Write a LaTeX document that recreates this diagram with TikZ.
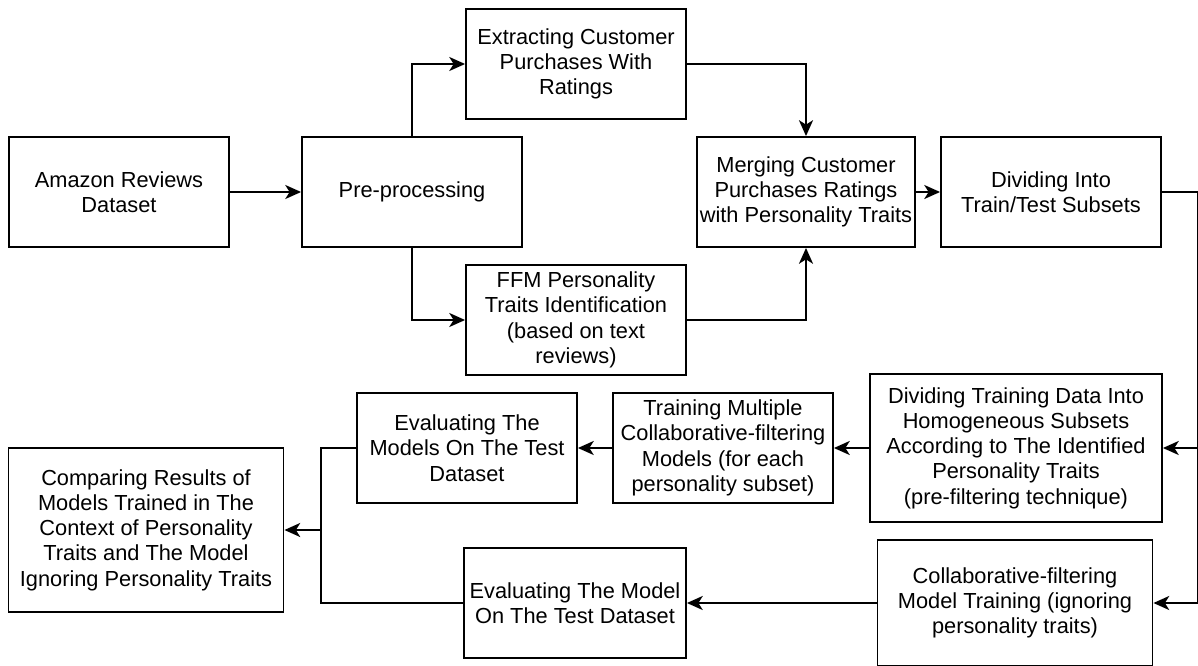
\documentclass[tikz,border=0pt]{standalone}
\usepackage{fontspec}
\setmainfont{Liberation Sans}
\usetikzlibrary{calc,arrows.meta}

\begin{document}
\begin{tikzpicture}[x=0.02cm,y=-0.02cm,
box/.style={rectangle,draw=black,line width=1.1pt,align=center,inner sep=1pt,font=\fontsize{12.4}{14.4}\selectfont},
sbox/.style={box,minimum width=4.4cm,minimum height=2.2cm},
flow/.style={line width=1.1pt,-{Stealth[length=9pt,width=8pt,inset=2.5pt]}},
link/.style={line width=1.1pt}]
	\useasboundingbox (0,0) rectangle (1198,666);
	%data preparation
	\node[sbox] at (119,192) (amz) {Amazon Reviews\\Dataset};
	\node[sbox] at (412,192) (pre) {Pre-processing};
	\node[sbox] at (576,64) (ext) {Extracting Customer\\Purchases With\\Ratings};
	\node[sbox] at (576,320) (ffm) {FFM Personality\\Traits Identification\\(based on text\\reviews)};
	\node[sbox,minimum width=4.36cm] at (806,192) (mrg) {Merging Customer\\Purchases Ratings\\with Personality Traits};
	\node[sbox] at (1051,192) (spl) {Dividing Into\\Train/Test Subsets};
	%personality branch
	\node[box,minimum width=5.84cm,minimum height=2.96cm] at (1016,448) (dtr) {Dividing Training Data Into\\Homogeneous Subsets\\According to The Identified\\Personality Traits\\(pre-filtering technique)};
	\node[sbox] at (723,448) (tmm) {Training Multiple\\Collaborative-filtering\\Models (for each\\personality subset)};
	\node[sbox] at (467,448) (evm) {Evaluating The\\Models On The Test\\Dataset};
	%baseline branch
	\node[box,minimum width=5.5cm,minimum height=2.52cm] at (1015,603) (cft) {Collaborative-filtering\\Model Training (ignoring\\personality traits)};
	\node[sbox,minimum width=4.44cm] at (575,603) (evs) {Evaluating The Model\\On The Test Dataset};
	%comparison
	\node[box,minimum width=5.5cm,minimum height=3.28cm] at (146,530) (cmp) {Comparing Results of\\Models Trained in The\\Context of Personality\\Traits and The Model\\Ignoring Personality Traits};

	\draw[flow] (amz.east) -- (pre.west);
	\draw[flow] (pre.north) |- (ext.west);
	\draw[flow] (pre.south) |- (ffm.west);
	\draw[flow] (ext.east) -| (mrg.north);
	\draw[flow] (ffm.east) -| (mrg.south);
	\draw[flow] (mrg.east) -- (spl.west);
	\coordinate (rt) at ($(spl.east)+(36,0)$);
	\draw[flow] (spl.east) -- (rt) |- (dtr.east);
	\draw[flow] (rt) |- (cft.east);
	\draw[flow] (dtr.west) -- (tmm.east);
	\draw[flow] (tmm.west) -- (evm.east);
	\draw[flow] (cft.west) -- (evs.east);
	\coordinate (lj) at ($(cmp.east)+(37,0)$);
	\draw[link] (evm.west) -| (lj);
	\draw[link] (evs.west) -| (lj);
	\draw[flow] (lj) -- (cmp.east);
\end{tikzpicture}
\end{document}
